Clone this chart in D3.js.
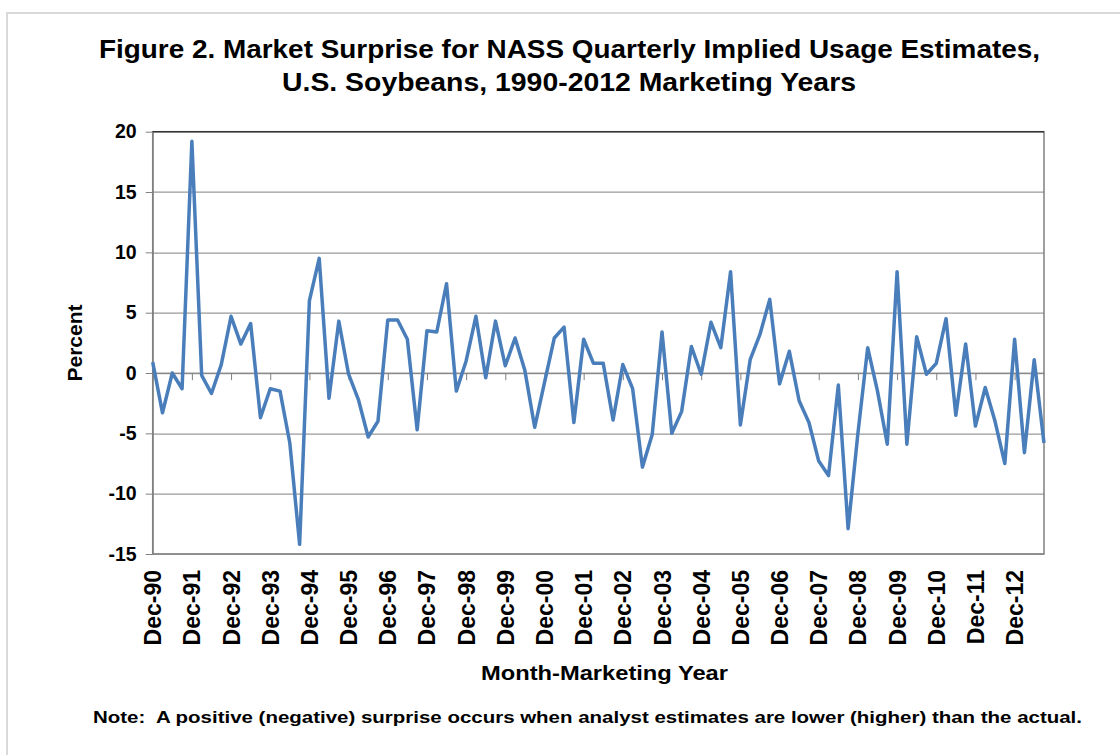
<!DOCTYPE html>
<html>
<head>
<meta charset="utf-8">
<script src="https://cdn.jsdelivr.net/npm/d3@7"></script>
<style>
  body { margin: 0; background: #fff; }
  text { font-family: "Liberation Sans", Arial, sans-serif; font-weight: bold; fill: #000; }
</style>
</head>
<body>
<script>
var width = 1120;
var height = 755;
var margin = {top: 131.7, left: 152.7, bottom: 201, right: 76};

// quarters of each marketing year
var years = ["90","91","92","93","94","95","96","97","98","99","00","01",
             "02","03","04","05","06","07","08","09","10","11","12"];
var nextYears = ["91","92","93","94","95","96","97","98","99","00","01","02",
                 "03","04","05","06","07","08","09","10","11","12","13"];

var categories = [];
years.forEach(function(y, i) {
  categories.push("Dec-" + y);
  categories.push("Mar-" + nextYears[i]);
  categories.push("Jun-" + nextYears[i]);
  categories.push("Sep-" + nextYears[i]);
});

// market surprise, percent
var surprise = [
   0.9, -3.3,  0.0, -1.3,   19.2, -0.2, -1.7,  0.7,
   4.7,  2.4,  4.1, -3.7,   -1.3, -1.5, -5.8,-14.2,
   6.0,  9.5, -2.1,  4.3,   -0.1, -2.2, -5.3, -4.0,
   4.4,  4.4,  2.8, -4.7,    3.5,  3.4,  7.4, -1.5,
   1.0,  4.7, -0.4,  4.3,    0.6,  2.9,  0.2, -4.5,
  -0.8,  2.9,  3.8, -4.1,    2.8,  0.8,  0.8, -3.9,
   0.7, -1.3, -7.8, -5.1,    3.4, -5.0, -3.2,  2.2,
  -0.1,  4.2,  2.1,  8.4,   -4.3,  1.1,  3.2,  6.1,
  -0.9,  1.8, -2.3, -4.1,   -7.3, -8.5, -1.0,-12.9,
  -5.0,  2.1, -1.5, -5.9,    8.4, -5.9,  3.0, -0.1,
   0.8,  4.5, -3.5,  2.4,   -4.4, -1.2, -4.0, -7.5,
   2.8, -6.6,  1.1, -5.8
];

var yTicks = [-15, -10, -5, 0, 5, 10, 15, 20];
var tickLabels = ["Dec-90","Dec-91","Dec-92","Dec-93","Dec-94","Dec-95","Dec-96","Dec-97",
                  "Dec-98","Dec-99","Dec-00","Dec-01","Dec-02","Dec-03","Dec-04","Dec-05",
                  "Dec-06","Dec-07","Dec-08","Dec-09","Dec-10","Dec-11","Dec-12"];

var plotW = width - margin.left - margin.right;
var plotH = height - margin.top - margin.bottom;

var svg = d3.select("body")
  .append("svg")
  .attr("width", width)
  .attr("height", height);

// outer chart border
svg.append("rect")
  .attr("x", 7)
  .attr("y", 13)
  .attr("width", 1130)
  .attr("height", 760)
  .attr("fill", "none")
  .attr("stroke", "#d9d9d9")
  .attr("stroke-width", 2);

svg.append("text")
  .attr("x", 99)
  .attr("y", 58.3)
  .attr("font-size", 26)
  .attr("textLength", 941)
  .attr("lengthAdjust", "spacingAndGlyphs")
  .text("Figure 2. Market Surprise for NASS Quarterly Implied Usage Estimates,");

svg.append("text")
  .attr("x", 282)
  .attr("y", 91)
  .attr("font-size", 26)
  .attr("textLength", 574)
  .attr("lengthAdjust", "spacingAndGlyphs")
  .text("U.S. Soybeans, 1990-2012 Marketing Years");

var g = svg.append("g")
  .attr("transform", "translate(" + margin.left + "," + margin.top + ")");

var x = d3.scalePoint().domain(categories).range([0, plotW]);
var y = d3.scaleLinear().domain([-15, 20]).range([plotH, 0]);

// gridlines
g.append("g")
  .selectAll("line")
  .data(yTicks)
  .enter()
  .append("line")
  .attr("x1", 0)
  .attr("x2", plotW)
  .attr("y1", function(d) { return Math.round(y(d)) + 0.5; })
  .attr("y2", function(d) { return Math.round(y(d)) + 0.5; })
  .attr("stroke", "#9a9a9a")
  .attr("stroke-width", 1.2);

// y axis
var yAxis = g.append("g")
  .call(d3.axisLeft(y).tickValues(yTicks).tickSize(7).tickPadding(9).tickSizeOuter(0)
    .tickFormat(function(d) { return String(d); }));
yAxis.select(".domain").attr("stroke", "#808080");
yAxis.selectAll(".tick line").attr("stroke", "#808080");
yAxis.selectAll(".tick text")
  .attr("font-size", 19.5)
  .attr("font-family", "Liberation Sans, Arial, sans-serif")
  .attr("font-weight", "bold")
  .attr("fill", "#000");

// category axis crossing at zero
var tickCats = categories.filter(function(d, i) { return i % 4 === 0; });
var xAxis = g.append("g")
  .attr("transform", "translate(0," + (Math.round(y(0)) + 0.5) + ")")
  .call(d3.axisBottom(x).tickValues(tickCats).tickSize(7).tickFormat("").tickSizeOuter(0));
xAxis.select(".domain").attr("stroke", "#808080");
xAxis.selectAll(".tick line").attr("stroke", "#808080");

// plot area frame
g.append("rect")
  .attr("x", 0)
  .attr("y", 0)
  .attr("width", plotW)
  .attr("height", plotH)
  .attr("fill", "none")
  .attr("stroke", "#808080")
  .attr("stroke-width", 1.5);
g.append("line")
  .attr("x1", 0).attr("x2", plotW)
  .attr("y1", 0).attr("y2", 0)
  .attr("stroke", "#333")
  .attr("stroke-width", 1.2);

// series
var line = d3.line()
  .x(function(d, i) { return x(categories[i]); })
  .y(function(d) { return y(d); });

g.append("path")
  .datum(surprise)
  .attr("d", line)
  .attr("fill", "none")
  .attr("stroke", "#4a7ebb")
  .attr("stroke-width", 3.5)
  .attr("stroke-linejoin", "round");

// rotated tick labels at bottom
g.append("g")
  .selectAll("text")
  .data(tickLabels)
  .enter()
  .append("text")
  .attr("font-size", 23)
  .attr("text-anchor", "end")
  .attr("transform", function(d) {
    return "translate(" + (x(d) + 8.5) + "," + (plotH + 16) + ")rotate(-90)";
  })
  .text(function(d) { return d; });

// axis titles
svg.append("text")
  .attr("text-anchor", "middle")
  .attr("font-size", 21)
  .attr("transform", "translate(82,343)rotate(-90)")
  .text("Percent");

svg.append("text")
  .attr("x", 481)
  .attr("y", 680)
  .attr("font-size", 21)
  .attr("textLength", 247)
  .attr("lengthAdjust", "spacingAndGlyphs")
  .text("Month-Marketing Year");

svg.append("text")
  .attr("x", 93)
  .attr("y", 723)
  .attr("font-size", 17)
  .attr("textLength", 989)
  .attr("lengthAdjust", "spacingAndGlyphs")
  .attr("xml:space", "preserve")
  .text("Note:  A positive (negative) surprise occurs when analyst estimates are lower (higher) than the actual.");
</script>
</body>
</html>
